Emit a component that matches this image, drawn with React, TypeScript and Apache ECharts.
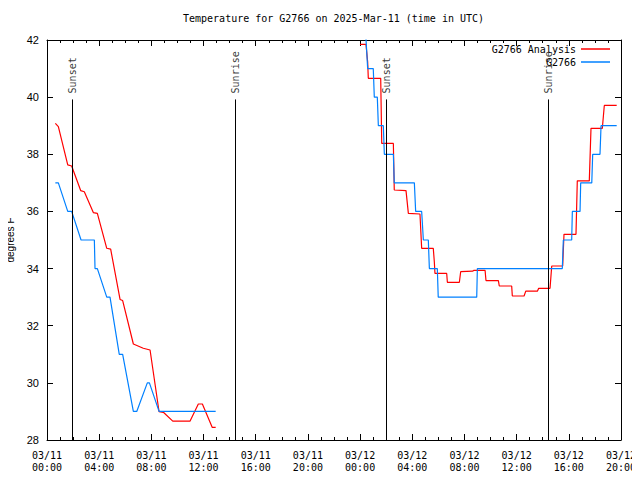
import React, { useEffect, useRef } from "react";
import * as echarts from "echarts";

// Time in hours since 03/11 00:00 UTC
const analysisHours1 = [0.64, 0.87, 1.59, 1.89, 2.58, 2.86, 3.55, 3.86, 4.58, 4.88, 5.6, 5.8, 6.62, 7.38, 7.9, 8.59, 8.92, 9.64, 10.96, 11.6, 11.91, 12.67, 12.93];
const analysisTemps1 = [39.08, 38.97, 37.63, 37.59, 36.73, 36.69, 35.96, 35.93, 34.71, 34.68, 32.92, 32.88, 31.36, 31.21, 31.15, 28.99, 28.97, 28.66, 28.66, 29.26, 29.26, 28.44, 28.44];
const analysisHours2 = [23.99, 24.45, 24.58, 24.63, 25.58, 25.66, 26.55, 26.62, 27.52, 27.7, 28.59, 28.72, 29.61, 29.69, 29.74, 30.64, 30.69, 31.61, 31.71, 32.63, 32.73, 33.58, 33.65, 34.6, 34.67, 35.62, 35.67, 36.57, 36.7, 37.59, 37.69, 38.56, 38.69, 39.53, 39.63, 40.55, 40.65, 41.57, 41.7, 42.57, 42.72, 43.67];
const analysisTemps2 = [41.85, 41.85, 41.24, 40.66, 40.66, 38.38, 38.38, 36.75, 36.73, 35.93, 35.91, 34.71, 34.71, 34.24, 33.83, 33.83, 33.52, 33.52, 33.89, 33.91, 33.94, 33.94, 33.58, 33.58, 33.39, 33.39, 33.04, 33.04, 33.21, 33.21, 33.31, 33.31, 34.09, 34.09, 35.2, 35.2, 37.07, 37.07, 38.91, 38.91, 39.71, 39.71];

const obsHours1 = [0.64, 0.87, 1.59, 1.89, 2.61, 3.63, 3.68, 3.86, 4.58, 4.83, 5.54, 5.8, 6.62, 6.88, 7.69, 7.85, 8.59, 12.93];
const obsTemps1 = [37, 37, 36, 36, 35, 35, 34, 34, 33, 33, 31, 31, 29, 29, 30, 30, 29, 29];
const obsHours2 = [24.42, 24.58, 25.01, 25.09, 25.32, 25.4, 25.78, 25.86, 26.55, 26.62, 28.16, 28.26, 28.72, 28.85, 29.23, 29.31, 29.92, 29.99, 32.94, 32.99, 39.5, 39.58, 40.22, 40.27, 40.86, 40.91, 41.76, 41.83, 42.39, 42.47, 43.67];
const obsTemps2 = [42.3, 41, 41, 40, 40, 39, 39, 38, 38, 37, 37, 36, 36, 35, 35, 34, 34, 33, 33, 34, 34, 35, 35, 36, 36, 37, 37, 38, 38, 39, 39];

const sunHours = [1.94, 14.43, 25.99, 38.43];
const sunLabels = ["Sunset", "Sunrise", "Sunset", "Sunrise"];
const sunLineTop = 39.92;

const xTickDays = ["03/11", "03/12"];

const MONO = "'DejaVu Sans Mono', monospace";
const SANS = "'Liberation Sans', Arial, sans-serif";

function pairs(h1: number[], t1: number[], h2: number[], t2: number[]) {
  const a: any[] = h1.map((h, i) => [h, t1[i]]);
  a.push([(h1[h1.length - 1] + h2[0]) / 2, "-"]);
  h2.forEach((h, i) => a.push([h, t2[i]]));
  return a;
}

export default function App() {
  const ref = useRef<HTMLDivElement>(null);
  useEffect(() => {
    if (!ref.current) return;
    const chart = echarts.init(ref.current, undefined, { renderer: "svg" });
    const fmt = (v: number) => {
      const day = xTickDays[Math.floor(v / 24)] ?? xTickDays[1];
      const hh = String(Math.round(v % 24)).padStart(2, "0");
      return day + "\n" + hh + ":00";
    };
    const axisBase = {
      type: "value" as const,
      axisLine: { show: true, onZero: false, lineStyle: { color: "#000", width: 1 } },
      splitLine: { show: false },
    };
    const legendText = { fontFamily: MONO, fontSize: 10, color: "#000" };
    chart.setOption({
      animation: false,
      backgroundColor: "#fff",
      title: {
        text: "Temperature for G2766 on 2025-Mar-11 (time in UTC)",
        left: 178,
        top: 8,
        textStyle: { fontFamily: MONO, fontSize: 10, fontWeight: "normal", color: "#000" },
      },
      legend: [
        {
          data: ["G2766 Analysis"],
          right: 25,
          top: 39,
          align: "right",
          icon: "rect",
          itemWidth: 29,
          itemHeight: 1.5,
          textStyle: legendText,
        },
        {
          data: ["G2766"],
          right: 25,
          top: 52,
          align: "right",
          icon: "rect",
          itemWidth: 29,
          itemHeight: 1.5,
          textStyle: legendText,
        },
      ],
      grid: { left: 47, right: 19, top: 40, bottom: 40, containLabel: false, outerBoundsMode: "none" },
      xAxis: [
        {
          ...axisBase,
          position: "bottom",
          min: 0,
          max: 44,
          interval: 4,
          axisTick: { show: true, inside: true, length: 6, lineStyle: { color: "#000" } },
          minorTick: { show: true, splitNumber: 4, length: 3, lineStyle: { color: "#000" } },
          axisLabel: { formatter: fmt, fontFamily: MONO, fontSize: 10, color: "#000", lineHeight: 12, margin: 9 },
        },
        {
          ...axisBase,
          position: "top",
          min: 0,
          max: 44,
          interval: 4,
          axisTick: { show: true, inside: true, length: 6, lineStyle: { color: "#000" } },
          minorTick: { show: true, splitNumber: 4, length: 3, lineStyle: { color: "#000" } },
          axisLabel: { show: false },
        },
      ],
      yAxis: [
        {
          ...axisBase,
          position: "left",
          min: 28,
          max: 42,
          interval: 2,
          name: "degrees F",
          nameLocation: "middle",
          nameRotate: 90,
          nameGap: 30,
          nameTextStyle: { fontFamily: SANS, fontSize: 10, color: "#000" },
          axisTick: { show: true, inside: true, length: 6, lineStyle: { color: "#000" } },
          axisLabel: { fontFamily: SANS, fontSize: 11, color: "#000", margin: 8 },
        },
        {
          ...axisBase,
          position: "right",
          min: 28,
          max: 42,
          interval: 2,
          axisTick: { show: true, inside: true, length: 6, lineStyle: { color: "#000" } },
          axisLabel: { show: false },
        },
      ],
      series: [
        {
          name: "G2766 Analysis",
          type: "line",
          data: pairs(analysisHours1, analysisTemps1, analysisHours2, analysisTemps2),
          symbol: "none",
          color: "#ff0000",
          lineStyle: { color: "#ff0000", width: 1.2 },
          connectNulls: false,
          clip: true,
        },
        {
          name: "G2766",
          type: "line",
          data: pairs(obsHours1, obsTemps1, obsHours2, obsTemps2),
          symbol: "none",
          color: "#0080ff",
          lineStyle: { color: "#0080ff", width: 1.2 },
          connectNulls: false,
          clip: true,
        },
        {
          name: "sun",
          type: "scatter",
          symbolSize: 0,
          silent: true,
          data: sunHours.map((h, i) => ({ value: [h, sunLineTop], name: sunLabels[i] })),
          label: {
            show: true,
            formatter: "{b}",
            position: "top",
            distance: 6,
            rotate: 90,
            align: "left",
            verticalAlign: "middle",
            fontFamily: MONO,
            fontSize: 10,
            color: "#000",
          },
          markLine: {
            silent: true,
            symbol: ["none", "none"],
            label: { show: false },
            lineStyle: { color: "#000", width: 1, type: "solid" },
            data: sunHours.map((h) => [{ coord: [h, 28] }, { coord: [h, sunLineTop] }]),
          },
        },
      ],
    });
    return () => chart.dispose();
  }, []);
  return <div ref={ref} style={{ width: 640, height: 480, margin: -8 }} />;
}
